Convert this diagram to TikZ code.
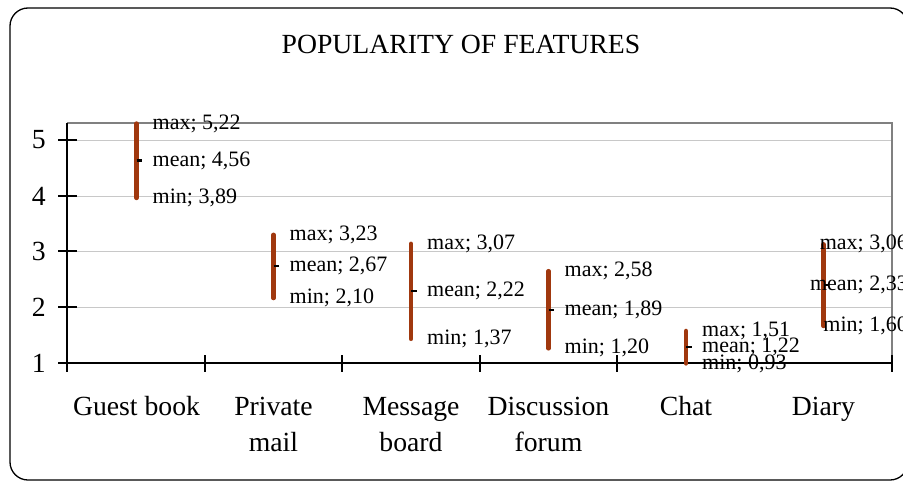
\documentclass[tikz,border=0pt]{standalone}
\usepackage{fontspec}
\setmainfont{Liberation Serif}
\definecolor{barc}{RGB}{160,56,14}
\definecolor{gridc}{RGB}{200,200,200}
\definecolor{framec}{RGB}{128,128,128}
\newcommand{\featbar}[9]{%
  \coordinate (#1top) at (#2,{359.5-(#3-1)*55.9});
  \coordinate (#1mean) at (#2,{359.5-(#4-1)*55.9});
  \coordinate (#1bot) at (#2,{359.5-(#5-1)*55.9});
  \draw[featline] (#1top) -- (#1bot);
  \draw[meanmark] (#1mean) -- ++(5.5,0);
  \node[vallbl,#9] (#1maxl) at ([xshift=16pt]#1top) {max; #6};
  \node[vallbl,#9] (#1meanl) at ([xshift=16pt]#1mean) {mean; #7};
  \node[vallbl,#9] (#1minl) at ([xshift=16pt]#1bot) {min; #8};
}
\begin{document}
\begin{tikzpicture}[x=1pt,y=-1pt,
  featline/.style={draw=barc,line width=4.5pt,line cap=round},
  meanmark/.style={draw=black,line width=2.2pt},
  vallbl/.style={font=\fontsize{22}{24}\selectfont,inner sep=0pt},
  catlbl/.style={font=\fontsize{27.7}{36}\selectfont,align=center,inner sep=0pt,anchor=base},
  ylbl/.style={font=\fontsize{27.7}{30}\selectfont,inner sep=0pt,anchor=east},
  gridline/.style={draw=gridc,line width=1pt},
  tickline/.style={draw=black,line width=1.2pt},
]
\useasboundingbox (0,0) rectangle (903,482);
\clip (0,0) rectangle (903,482);
\fill[white] (0,0) rectangle (903,482);
\draw[line width=1.3pt,rounded corners=18pt] (10,8) rectangle (908,480);
\node[font=\fontsize{27.7}{30}\selectfont,anchor=base,inner sep=0pt] (title) at (461,53) {POPULARITY OF FEATURES};
% grid
\foreach \yy in {140,196,251,307} {\draw[gridline] (67,\yy) -- (892,\yy);}
% plot border
\draw[framec,line width=1.5pt] (67,123) -- (892,123) -- (892,363);
\draw[black,line width=1.5pt] (67,123) -- (67,363);
\draw[black,line width=2pt] (67,363) -- (892,363);
% y ticks and labels
\foreach \v/\yy in {1/363,2/307,3/251,4/196,5/140} {
  \draw[tickline] (58,\yy) -- (77,\yy);
  \node[ylbl] (y\v) at (46,\yy) {\v};
}
% x ticks
\foreach \xx in {67,205,342,480,617,892} {\draw[tickline] (\xx,355) -- (\xx,372);}
% data
\featbar{gb}{136.5}{5.22}{4.56}{3.89}{5,22}{4,56}{3,89}{anchor=west}
\featbar{pm}{273.5}{3.23}{2.67}{2.10}{3,23}{2,67}{2,10}{anchor=west}
\featbar{mb}{411}{3.07}{2.22}{1.37}{3,07}{2,22}{1,37}{anchor=west}
\featbar{df}{548.5}{2.58}{1.89}{1.20}{2,58}{1,89}{1,20}{anchor=west}
\featbar{ch}{686}{1.51}{1.22}{0.93}{1,51}{1,22}{0,93}{anchor=west}
% diary, labels pushed left
\coordinate (dytop) at (823.5,{359.5-(3.06-1)*55.9});
\coordinate (dymean) at (823.5,{359.5-(2.33-1)*55.9});
\coordinate (dybot) at (823.5,{359.5-(1.60-1)*55.9});
\draw[featline] (dytop) -- (dybot);
\draw[meanmark] (dymean) -- ++(5.5,0);
\node[vallbl,anchor=east] (dymaxl) at (908,{359.5-(3.06-1)*55.9}) {max; 3,06};
\node[vallbl,anchor=east] (dymeanl) at (908,{359.5-(2.33-1)*55.9}) {mean; 2,33};
\node[vallbl,anchor=east] (dyminl) at (908,{359.5-(1.60-1)*55.9}) {min; 1,60};
% categories
\node[catlbl] (cgb) at (136.5,415) {Guest book};
\node[catlbl] (cpm) at (273.5,451) {Private\\mail};
\node[catlbl] (cmb) at (411,451) {Message\\board};
\node[catlbl] (cdf) at (548.5,451) {Discussion\\forum};
\node[catlbl] (cch) at (686,415) {Chat};
\node[catlbl] (cdy) at (823.5,415) {Diary};
\end{tikzpicture}
\end{document}
